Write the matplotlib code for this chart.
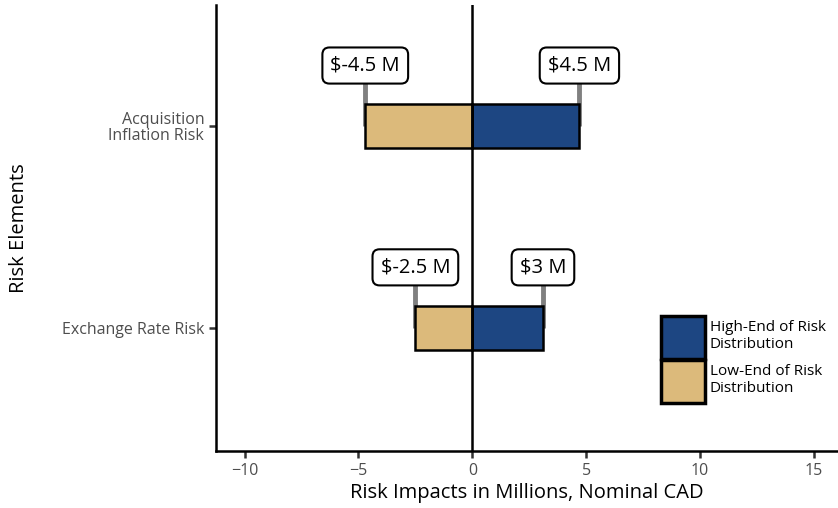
import matplotlib

matplotlib.use("Agg")
from matplotlib import pyplot as plt
from matplotlib.patches import Patch
import numpy as np

plt.rcParams['font.family'] = ['Open Sans', 'DejaVu Sans']

# data
risks = ['Exchange Rate Risk', 'Acquisition\nInflation Risk']
low_end = [-2.5, -4.7]
high_end = [3.1, 4.7]
low_labels = ['$-2.5 M', '$-4.5 M']
high_labels = ['$3 M', '$4.5 M']

navy = '#1d4682'
tan = '#dcba7b'

fig = plt.figure(figsize=(8.38, 5.08), dpi=100)
ax = fig.add_axes([0.2578, 0.1122, 0.7422, 0.878])

y = np.arange(len(risks))
h = 0.22

# stems to labels (drawn under bars)
for yi, lo, hi in zip(y, low_end, high_end):
    for v in (lo, hi):
        ax.plot([v, v], [yi, yi + 0.3], color='#808080', lw=3.5, zorder=1,
                solid_capstyle='butt')

ax.barh(y, high_end, height=h, color=navy, edgecolor='black', lw=1.8, zorder=2)
ax.barh(y, low_end, height=h, color=tan, edgecolor='black', lw=1.8, zorder=2)

box = {'facecolor': 'white', 'edgecolor': 'black',
       'boxstyle': 'round,pad=0.4,rounding_size=0.35', 'linewidth': 1.5}
for yi, lo, hi, lt, ht in zip(y, low_end, high_end, low_labels, high_labels):
    ax.text(lo, yi + 0.3, lt, ha='center', va='center', fontsize=14.5,
            bbox=box, zorder=4)
    ax.text(hi, yi + 0.3, ht, ha='center', va='center', fontsize=14.5,
            bbox=box, zorder=4)

ax.axvline(0, color='black', lw=1.8, zorder=3)

ax.set_xlim(-11.25, 16.05)
ax.set_ylim(-0.61, 1.6)
ax.set_xticks([-10, -5, 0, 5, 10, 15])
ax.set_yticks(y)
ax.set_yticklabels(risks, ha='right', linespacing=1.0)

for s in ('top', 'right'):
    ax.spines[s].set_visible(False)
for s in ('left', 'bottom'):
    ax.spines[s].set_linewidth(1.8)
ax.tick_params(axis='both', colors='#333333', labelcolor='#4d4d4d',
               labelsize=11.5, length=5, width=1.8)

ax.set_xlabel('Risk Impacts in Millions, Nominal CAD', fontsize=14.5, labelpad=3)
ax.set_ylabel('Risk Elements', fontsize=14.5, labelpad=24)

handles = [Patch(facecolor=navy, edgecolor='black', lw=2.5),
           Patch(facecolor=tan, edgecolor='black', lw=2.5)]
ax.legend(handles, ['High-End of Risk\nDistribution', 'Low-End of Risk\nDistribution'],
          loc='lower right', bbox_to_anchor=(0.99, 0.095), frameon=False,
          handlelength=2.9, handleheight=3.9, handletextpad=0.3,
          labelspacing=0.1, borderaxespad=0.0, prop={'size': 11})

fig.savefig('out.png', dpi=100)
